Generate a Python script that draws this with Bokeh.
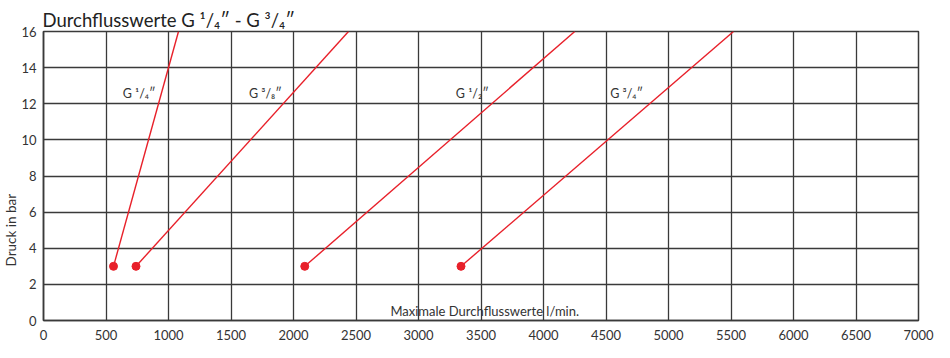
import math
from bokeh.plotting import figure
from bokeh.models import ColumnDataSource, Label, FixedTicker, Range1d, Title
from bokeh.core.properties import value
from bokeh.embed import file_html
from bokeh.resources import INLINE

# ---- data ----
series_names = ["G \u00b9/\u2084\u2033", "G \u00b3/\u2088\u2033", "G \u00b9/\u2082\u2033", "G \u00b3/\u2084\u2033"]
start_flow = [560, 740, 2090, 3340]
start_pressure = [3, 3, 3, 3]
end_flow = [1080, 2440, 4250, 5520]
end_pressure = [16, 16, 16, 16]
label_flow = [765, 1775, 3430, 4665]
label_pressure = [12.55, 12.55, 12.55, 12.55]
x_ticks = list(range(0, 7001, 500))
y_ticks = list(range(0, 17, 2))
title_text = "Durchflusswerte G \u00b9/\u2084\u2033 - G \u00b3/\u2084\u2033"
x_label = "Maximale Durchflusswerte l/min."
y_label = "Druck in bar"

FONT = "Lato"
RED = "#e8202a"
GRID = "#3a3a3a"
TEXT = "#333333"

p = figure(width=934, height=342, output_backend="svg", toolbar_location=None,
           x_range=Range1d(0, 7000), y_range=Range1d(0, 16),
           min_border_left=42, min_border_right=16, min_border_top=31, min_border_bottom=0)

p.title.text = title_text
p.title.text_font = FONT
p.title.text_font_size = "18.5px"
p.title.text_font_style = "normal"
p.title.text_color = "#222222"
p.title.align = "left"
p.title.offset = -1
p.title.standoff = 1

ytitle = Title(text=y_label, align="left", offset=54, text_font=FONT,
               text_font_size="13.5px", text_font_style="normal", text_color=TEXT,
               standoff=0)
p.add_layout(ytitle, "left")

for ax in (p.xaxis, p.yaxis):
    ax.axis_label = None
    ax.major_tick_line_color = None
    ax.minor_tick_line_color = None
    ax.major_tick_out = 0
    ax.major_tick_in = 0
    ax.axis_line_color = GRID
    ax.axis_line_width = 1.5
    ax.major_label_text_font = FONT
    ax.major_label_text_font_size = "13px"
    ax.major_label_text_color = TEXT
p.xaxis.ticker = FixedTicker(ticks=x_ticks)
p.yaxis.ticker = FixedTicker(ticks=y_ticks)
p.xaxis.major_label_standoff = 9
p.yaxis.major_label_standoff = 7

p.xgrid.ticker = FixedTicker(ticks=x_ticks)
p.ygrid.ticker = FixedTicker(ticks=y_ticks)
p.grid.grid_line_color = GRID
p.grid.grid_line_width = 1.3
p.grid.grid_line_alpha = 1.0
p.outline_line_color = GRID
p.outline_line_width = 1.5
p.outline_line_alpha = 1.0

seg = ColumnDataSource(dict(x0=start_flow, y0=start_pressure, x1=end_flow, y1=end_pressure))
p.segment(x0="x0", y0="y0", x1="x1", y1="y1", source=seg, line_color=RED, line_width=1.4)
p.scatter(x=start_flow, y=start_pressure, size=8, color=RED)

lab = ColumnDataSource(dict(x=label_flow, y=label_pressure, t=series_names))
p.text(x="x", y="y", text="t", source=lab, text_font=value(FONT), text_font_size="12.5px",
       text_color=TEXT, text_align="center", text_baseline="middle")

p.add_layout(Label(x=3530, y=0.55, text=x_label, text_font=FONT, text_font_size="13px",
                   text_color=TEXT, text_align="center", text_baseline="middle"))

open("out.html", "w").write(file_html(p, INLINE))
